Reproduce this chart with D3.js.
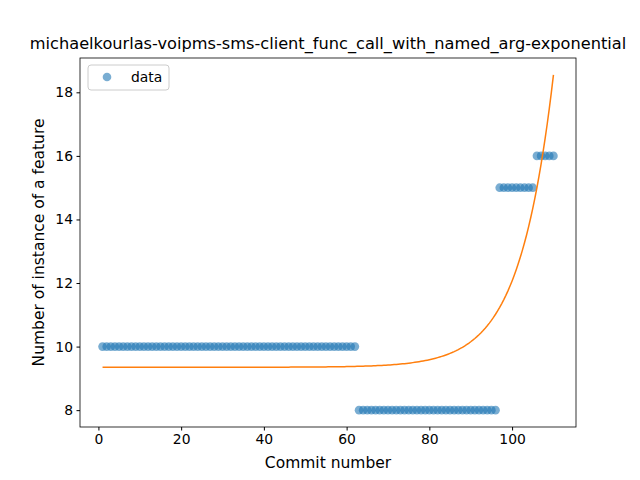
<!DOCTYPE html>
<html><head><meta charset="utf-8">
<script src="https://cdn.jsdelivr.net/npm/d3@7"></script>
<style>body{margin:0;background:#fff}text{font-family:"DejaVu Sans",sans-serif}</style>
</head><body><svg id="c" width="640" height="480"></svg>
<script>
const segX=[[1,62],[63,96],[97,105],[106,110]];
const segY=[10,8,15,16];
const xTicks=[0,20,40,60,80,100];
const yTicks=[8,10,12,14,16,18];
const fitEnd=18.55, fitB=0.122, fitC=9.35; // fitted exponential: c + (end-c)*exp(b*(x-110))
const xs=[],ys=[];
segX.forEach((s,i)=>{for(let x=s[0];x<=s[1];x++){xs.push(x);ys.push(segY[i]);}});
const fit=d3.range(1,110.01,0.5).map(x=>[x,fitC+(fitEnd-fitC)*Math.exp(fitB*(x-110))]);
const svg=d3.select("#c");
const L=80,R=576,T=58,B=427;
const x=d3.scaleLinear().domain([-4.45,115.45]).range([L,R]);
const y=d3.scaleLinear().domain([7.47,19.08]).range([B,T]);
svg.append("g").attr("transform",`translate(0,${B})`).call(d3.axisBottom(x).tickValues(xTicks).tickSize(3.5).tickPadding(3.5))
 .call(g=>{g.select(".domain").remove();g.selectAll("text").attr("font-size",13.9).attr("fill","#000");});
svg.append("g").attr("transform",`translate(${L},0)`).call(d3.axisLeft(y).tickValues(yTicks).tickSize(3.5).tickPadding(3.5))
 .call(g=>{g.select(".domain").remove();g.selectAll("text").attr("font-size",13.9).attr("fill","#000");});
svg.selectAll(".pt").data(xs).enter().append("circle").attr("cx",d=>x(d)).attr("cy",(d,i)=>y(ys[i])).attr("r",4.3).attr("fill","#1f77b4").attr("fill-opacity",0.6);
svg.append("path").attr("d",d3.line().x(d=>x(d[0])).y(d=>y(d[1]))(fit)).attr("fill","none").attr("stroke","#ff7f0e").attr("stroke-width",1.5);
svg.append("rect").attr("x",L).attr("y",T).attr("width",R-L).attr("height",B-T).attr("fill","none").attr("stroke","#000").attr("stroke-width",0.8);
svg.append("text").attr("x",(L+R)/2).attr("y",T-9).attr("text-anchor","middle").attr("font-size",16.2).text("michaelkourlas-voipms-sms-client_func_call_with_named_arg-exponential");
svg.append("text").attr("x",(L+R)/2).attr("y",468).attr("text-anchor","middle").attr("font-size",15.5).text("Commit number");
svg.append("text").attr("transform",`translate(44,${(T+B)/2}) rotate(-90)`).attr("text-anchor","middle").attr("font-size",15.5).text("Number of instance of a feature");
const lg=svg.append("g");
lg.append("rect").attr("x",88).attr("y",65).attr("width",81).attr("height",25).attr("rx",3).attr("fill","#fff").attr("stroke","#ccc");
lg.append("circle").attr("cx",107).attr("cy",77).attr("r",4.3).attr("fill","#1f77b4").attr("fill-opacity",0.6);
lg.append("text").attr("x",131).attr("y",82).attr("font-size",13.9).text("data");
</script></body></html>
